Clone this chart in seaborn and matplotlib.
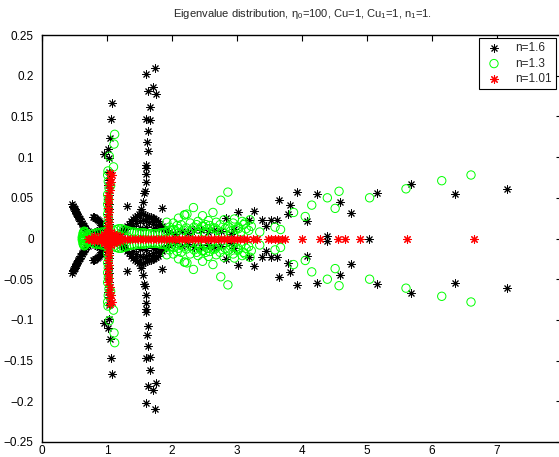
import numpy as np
import pandas as pd
import matplotlib
matplotlib.use("Agg")
import matplotlib.pyplot as plt
from matplotlib.markers import MarkerStyle
import seaborn as sns

# ---------------- data (upper half-plane; eigenvalues come in conjugate pairs) ----------------
# n = 1.6
n16_re = [0.46, 0.47, 0.48, 0.49, 0.50, 0.51, 0.52, 0.53, 0.54, 0.55, 0.56, 0.57, 0.58, 0.59, 0.60,
          0.61, 0.62, 0.63, 0.64, 0.66, 0.68, 0.70,
          0.78, 0.80, 0.82, 0.84, 0.86, 0.88, 0.90, 0.91, 0.90, 0.88, 0.85, 0.82,
          1.02, 1.03, 1.03, 1.02, 1.03, 1.03, 1.02, 1.03, 1.03, 1.02, 1.03, 1.03, 1.026, 0.96, 1.01, 1.05, 1.06, 1.07,
          1.523, 1.55, 1.575, 1.585, 1.595, 1.605, 1.595, 1.60, 1.63, 1.62, 1.626, 1.667, 1.60, 1.667, 1.754, 1.626, 1.70, 1.60, 1.74,
          1.22, 1.26, 1.28, 1.31, 1.34, 1.37, 1.40, 1.43, 1.46, 1.49, 1.52, 1.55, 1.58, 1.61, 1.64, 1.67, 1.70, 1.73, 1.76,
          1.79, 1.82, 1.85, 1.88, 1.91, 1.40, 1.45, 1.50, 1.55, 1.60, 1.65, 1.70, 1.75, 1.80, 1.50, 1.60, 1.70,
          1.30, 1.84,
          1.95, 2.05, 2.15, 2.25, 2.34, 2.45, 2.55, 2.65, 2.75, 2.83, 2.95, 2.90,
          3.02, 3.185, 3.26, 3.385, 3.446, 3.52, 3.61, 3.65, 3.79, 3.815, 3.92, 4.08, 4.23, 4.38, 4.58, 4.75,
          5.15, 5.67, 6.35, 7.15,
          5.03]
n16_im = [0.042, 0.040, 0.039, 0.037, 0.036, 0.034, 0.033, 0.031, 0.030, 0.028, 0.027, 0.025, 0.024, 0.022, 0.021,
          0.019, 0.018, 0.016, 0.015, 0.013, 0.011, 0.009,
          0.026, 0.026, 0.025, 0.024, 0.023, 0.021, 0.019, 0.016, 0.013, 0.011, 0.009, 0.008,
          0.012, 0.018, 0.024, 0.030, 0.036, 0.042, 0.048, 0.054, 0.060, 0.066, 0.072, 0.082, 0.099, 0.104, 0.110, 0.123, 0.147, 0.167,
          0.036, 0.045, 0.056, 0.058, 0.070, 0.079, 0.087, 0.090, 0.108, 0.118, 0.132, 0.145, 0.147, 0.161, 0.177, 0.181, 0.186, 0.202, 0.209,
          0.008, 0.010, 0.012, 0.015, 0.018, 0.021, 0.024, 0.026, 0.028, 0.030, 0.031, 0.030, 0.029, 0.028, 0.027, 0.026, 0.025, 0.024, 0.023,
          0.021, 0.018, 0.015, 0.012, 0.010, 0.015, 0.019, 0.022, 0.023, 0.021, 0.020, 0.018, 0.016, 0.013, 0.013, 0.014, 0.012,
          0.040, 0.038,
          0.008, 0.006, 0.009, 0.007, 0.011, 0.010, 0.008, 0.011, 0.009, 0.025, 0.012, 0.005,
          0.032, 0.023, 0.034, 0.023, 0.015, 0.023, 0.023, 0.047, 0.030, 0.041, 0.057, 0.021, 0.055, 0.003, 0.045, 0.031,
          0.056, 0.067, 0.055, 0.061,
          0.0]

# n = 1.3
n13_re = [0.62, 0.64, 0.66, 0.68, 0.63, 0.64, 0.65, 0.66, 0.67, 0.68, 0.70, 0.72, 0.64, 0.62,
          1.01, 1.02, 1.01, 1.02, 1.01, 1.02, 1.01, 1.02, 1.01, 1.03, 1.02, 1.01, 1.015, 1.056, 1.036, 1.10, 1.108, 1.118,
          0.76, 0.80, 0.84, 0.88, 0.92, 0.96, 1.06, 1.10, 1.14, 1.18, 1.22, 1.26, 1.30, 1.34, 1.38, 1.42, 1.46, 1.50,
          1.54, 1.58, 1.62, 1.66, 1.70, 1.74, 1.78, 1.82, 1.86, 1.90, 1.94, 1.98, 2.02, 2.06, 2.10, 2.14, 2.18, 2.22,
          2.26, 2.30, 2.34, 2.38, 2.42, 2.46, 2.50, 2.54, 2.58, 2.62, 2.66, 2.70, 2.74, 2.78, 2.82, 2.86, 2.90, 2.94,
          2.98, 3.02, 3.06, 3.10, 3.14, 3.18, 3.22,
          2.86, 2.75, 2.33, 2.63, 2.47, 2.23, 2.19, 2.10, 1.92, 2.02, 2.14, 2.52, 2.38, 2.20, 2.48, 2.64, 2.89, 3.02,
          3.12, 3.20, 3.35, 3.585, 3.67, 3.87, 4.05, 4.15, 4.39, 4.51, 4.57, 5.04, 5.60, 6.15, 6.60,
          1.96, 2.08, 2.28, 2.40, 2.56, 2.68, 2.80, 2.96, 3.08]
n13_im = [0.0, 0.0, 0.0, 0.0, 0.006, 0.008, 0.009, 0.008, 0.007, 0.005, 0.004, 0.003, 0.003, 0.002,
          0.006, 0.012, 0.018, 0.024, 0.030, 0.036, 0.042, 0.048, 0.054, 0.062, 0.070, 0.078, 0.083, 0.065, 0.101, 0.088, 0.116, 0.128,
          0.005, 0.006, 0.007, 0.007, 0.008, 0.008, 0.009, 0.010, 0.011, 0.012, 0.012, 0.011, 0.010, 0.009, 0.008, 0.008, 0.007, 0.007,
          0.007, 0.007, 0.006, 0.006, 0.006, 0.006, 0.006, 0.007, 0.007, 0.008, 0.009, 0.010, 0.011, 0.008, 0.012, 0.006, 0.010, 0.013,
          0.007, 0.010, 0.014, 0.006, 0.011, 0.015, 0.008, 0.012, 0.016, 0.006, 0.013, 0.010, 0.017, 0.007, 0.012, 0.015, 0.009, 0.019,
          0.011, 0.014, 0.008, 0.017, 0.012, 0.010, 0.015,
          0.057, 0.047, 0.038, 0.032, 0.028, 0.030, 0.029, 0.025, 0.020, 0.019, 0.017, 0.017, 0.017, 0.029, 0.015, 0.012, 0.013, 0.012,
          0.019, 0.023, 0.008, 0.014, 0.011, 0.032, 0.027, 0.041, 0.050, 0.037, 0.058, 0.050, 0.061, 0.071, 0.078,
          0.014, 0.016, 0.019, 0.021, 0.022, 0.020, 0.023, 0.024, 0.021]

# n = 1.01
n101_re = [0.70, 0.73, 0.76, 0.79, 0.82, 0.85, 0.88, 0.91, 0.94, 0.97, 1.00, 1.03, 1.06, 1.09, 1.12, 1.15,
           1.19, 1.23, 1.27, 1.31, 1.35, 1.39, 1.43, 1.47, 1.51, 1.55, 1.59, 1.63, 1.67, 1.71, 1.75, 1.79,
           1.83, 1.87, 1.91, 1.95, 2.00, 2.05, 2.10, 2.15, 2.20, 2.25, 2.30, 2.35, 2.40, 2.45, 2.50, 2.55,
           2.60, 2.65, 2.70, 2.75, 2.80, 2.85, 2.90, 2.95, 3.00, 3.05, 3.10, 3.15,
           3.25, 3.30, 3.48, 3.53, 3.58, 3.63, 3.69, 3.74, 4.00, 4.28, 4.56, 4.66, 4.89, 5.62, 6.64,
           0.80, 0.90, 0.96, 1.00, 1.06, 1.10, 1.14, 1.20,
           1.02, 1.03, 1.02, 1.03, 1.02, 1.03, 1.02, 1.01, 1.03, 1.02, 1.04, 1.03, 1.06, 1.05, 1.07, 1.04]
n101_im = [0.0] * 75 + \
          [0.003, 0.003, 0.006, 0.008, 0.008, 0.006, 0.004, 0.003,
           0.005, 0.010, 0.015, 0.020, 0.026, 0.032, 0.038, 0.043, 0.048, 0.054, 0.060, 0.066, 0.069, 0.073, 0.078, 0.081]

labels = ["n=1.6", "n=1.3", "n=1.01"]


def conj_pairs(re, im):
    re = np.asarray(re, float)
    im = np.asarray(im, float)
    m = im > 0
    return pd.DataFrame({"re": np.concatenate([re, re[m]]),
                         "im": np.concatenate([im, -im[m]])})


d16 = conj_pairs(n16_re, n16_im)
d13 = conj_pairs(n13_re, n13_im)
d101 = conj_pairs(n101_re, n101_im)

# ---------------- figure ----------------
sns.set_theme(style="white")
plt.rcParams["font.family"] = ["Liberation Sans", "DejaVu Sans"]
plt.rcParams["axes.unicode_minus"] = True

fig = plt.figure(figsize=(5.59, 4.57), dpi=100)
ax = fig.add_axes([42 / 559, 15 / 457, 520 / 559, 407 / 457])

asterisk = MarkerStyle((8, 2, 0))
ring = MarkerStyle("o", fillstyle="none")

sns.scatterplot(data=d16, x="re", y="im", marker=asterisk, color="black", s=28,
                linewidth=0.7, label=labels[0], ax=ax, zorder=2)
sns.scatterplot(data=d13, x="re", y="im", marker=ring, color="#00ff00", s=36,
                linewidth=0.7, label=labels[1], ax=ax, zorder=3)
sns.scatterplot(data=d101, x="re", y="im", marker=asterisk, color="red", s=30,
                linewidth=0.8, label=labels[2], ax=ax, zorder=4)

ax.set_xlim(0, 8)
ax.set_ylim(-0.25, 0.25)
ax.set_xlabel("")
ax.set_ylabel("")
ax.set_xticks(range(0, 8))
ax.set_xticklabels([str(i) for i in range(0, 8)])
yt = [-0.25, -0.2, -0.15, -0.1, -0.05, 0, 0.05, 0.1, 0.15, 0.2, 0.25]
ax.set_yticks(yt)
ax.set_yticklabels(["\u22120.25", "\u22120.2", "\u22120.15", "\u22120.1", "\u22120.05", "0",
                    "0.05", "0.1", "0.15", "0.2", "0.25"])
ax.tick_params(direction="in", length=4, width=0.8, labelsize=8.5, colors="black",
               top=True, right=True)
ax.tick_params(axis="y", pad=6)
ax.tick_params(axis="x", pad=2)
for sp in ax.spines.values():
    sp.set_visible(True)
    sp.set_color("black")
    sp.set_linewidth(1.0)

ax.set_title(r"Eigenvalue distribution, $\mathregular{\eta_0}$=100, Cu=1, Cu$\mathregular{_1}$=1, n$\mathregular{_1}$=1.",
             fontsize=8, pad=13)

leg = ax.legend(loc="upper right", bbox_to_anchor=(556 / 559, 1 - 38 / 457),
                bbox_transform=fig.transFigure, fontsize=8.5, frameon=True,
                fancybox=False, edgecolor="black", framealpha=1,
                borderpad=0.35, handletextpad=0.9, labelspacing=0.3, borderaxespad=0,
                handlelength=1.8)
leg.get_frame().set_linewidth(0.8)

fig.savefig("out.png", dpi=100)
